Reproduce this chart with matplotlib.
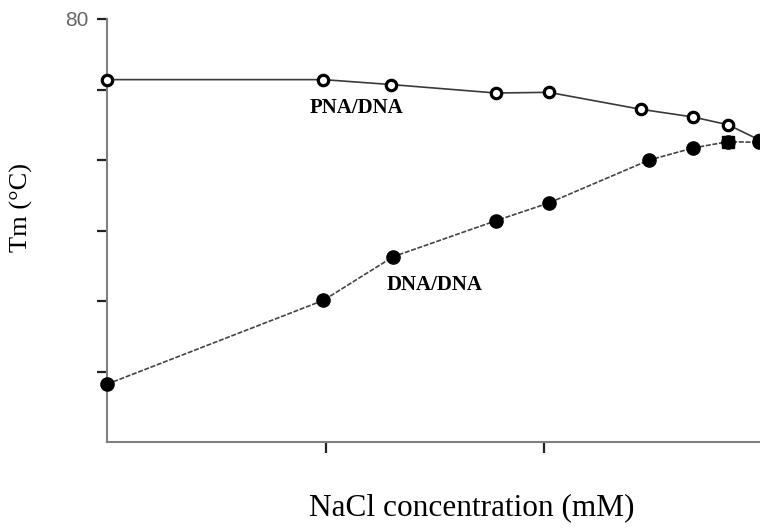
import matplotlib
matplotlib.use("Agg")
import matplotlib.pyplot as plt
import numpy as np

# Data (NaCl concentration in mM, Tm in °C)
pna_x = [0, 99, 130, 178, 202, 244, 268, 284, 298]
pna_y = [71.4, 71.4, 70.7, 69.5, 69.6, 67.2, 66.1, 65.0, 62.9]
dna_x = [0, 99, 131, 178, 202, 248, 268, 284, 298]
dna_y = [28.2, 40.1, 46.3, 51.4, 53.9, 60.0, 61.7, 62.6, 62.5]

y_ticks = [80, 70, 60, 50, 40, 30]
y_tick_labels = ["80", "", "", "", "", ""]
x_ticks = [100, 200]

fig = plt.figure(figsize=(7.6, 5.29), dpi=100)
ax = fig.add_axes([107 / 760, (529 - 442) / 529, (763 - 107) / 760, (442 - 19) / 529])
ax.set_xlim(0, 300)
ax.set_ylim(20, 80)

ax.plot(pna_x, pna_y, color="#3a3a3a", lw=1.2, marker="o", markersize=7.5,
        markerfacecolor="white", markeredgecolor="black", markeredgewidth=2.3,
        clip_on=False, zorder=3)
ax.plot(dna_x, dna_y, color="#444444", lw=1.2, linestyle=(0, (3, 1)), marker="o",
        markersize=9.5, markerfacecolor="black", markeredgecolor="black",
        clip_on=False, zorder=3)
ax.plot(dna_x[7:8], dna_y[7:8], linestyle="none", marker="s", markersize=8.5,
        color="black", clip_on=False, zorder=4)

for s in ["top", "right"]:
    ax.spines[s].set_visible(False)
for s in ["left", "bottom"]:
    ax.spines[s].set_color("#808080")
    ax.spines[s].set_linewidth(1.5)

ax.set_yticks(y_ticks)
ax.set_yticklabels(y_tick_labels, fontsize=15, color="#666666", family="Liberation Sans")
ax.set_xticks(x_ticks)
ax.set_xticklabels([])
ax.tick_params(axis="y", length=7, width=1.6, color="#222222", pad=6)
ax.tick_params(axis="x", length=8, width=1.6, color="#222222")

ax.text(114, 67.4, "PNA/DNA", fontsize=15, fontweight="bold", family="Liberation Serif",
        ha="center", va="center")
ax.text(150, 42.2, "DNA/DNA", fontsize=15, fontweight="bold", family="Liberation Serif",
        ha="center", va="center")

fig.text(21 / 760, 1 - 208 / 529, "Tm (°C)", rotation=90, fontsize=19,
         family="Liberation Serif", ha="center", va="center")
fig.text(472 / 760, 1 - 508 / 529, "NaCl concentration (mM)", fontsize=22.5,
         family="Liberation Serif", ha="center", va="center")

fig.savefig("out.png", dpi=100)
